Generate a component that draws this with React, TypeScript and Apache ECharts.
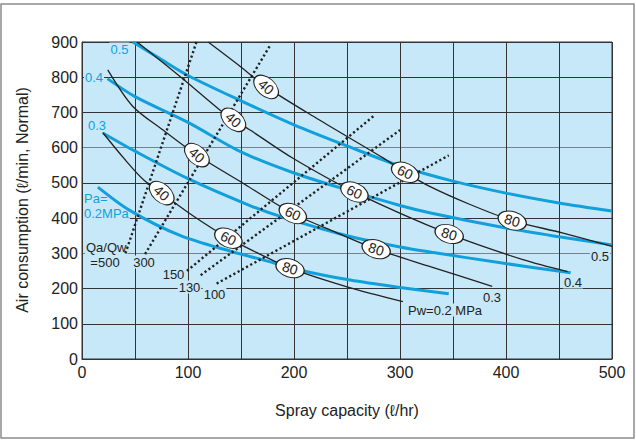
import React, { useEffect, useRef } from "react";
import * as echarts from "echarts";

// ---- Data ----
// Pa (air pressure) curves, blue: [spray capacity l/hr, air consumption l/min]
const paNames = ["0.2", "0.3", "0.4", "0.5"];
const pa02 = [[15, 488], [45, 422], [93, 350], [140, 306], [170, 282], [206, 252], [253, 224], [300, 203], [346, 185]];
const pa03 = [[20, 641], [50, 590], [100, 512], [159, 435], [190, 402], [250, 350], [300, 318], [330, 303], [395, 273], [461, 245]];
const pa04 = [[24, 796], [50, 745], [100, 672], [150, 588], [200, 528], [250, 480], [300, 436], [330, 414], [400, 372], [450, 347], [500, 324]];
const pa05 = [[48, 900], [75, 850], [100, 805], [150, 733], [200, 665], [250, 605], [300, 548], [350, 505], [400, 471], [450, 443], [500, 420]];

// Pw (water pressure) curves, black
const pwNames = ["0.2", "0.3", "0.4", "0.5"];
const pw02 = [[19.5, 643], [40, 568], [58, 509], [75.2, 471], [105, 406], [138.1, 343], [165, 302], [196.3, 258], [250, 205], [302.7, 163]];
const pw03 = [[24.3, 821], [48, 717], [76.5, 650], [108.4, 579], [153, 497], [198.9, 413], [240, 359], [277.5, 312], [330, 261], [387, 206]];
const pw04 = [[52, 900], [92.5, 802], [130, 707], [142.8, 679], [158.6, 650], [199, 570], [257, 474], [346.4, 355], [416, 282], [458, 248]];
const pw05 = [[119, 900], [147, 836], [173.7, 772.5], [222, 682], [284, 571], [304.9, 530], [328, 490], [365, 440], [405.9, 393], [453, 358], [500, 320]];

// Qa/Qw ratio lines (dotted): end points
const ratioNames = ["500", "300", "150", "130", "100"];
const ratio500 = [[41, 300], [108, 900]];
const ratio300 = [[59.5, 298], [177.4, 890]];
const ratio150 = [[99, 250], [276, 692]];
const ratio130 = [[112, 238], [300, 650]];
const ratio100 = [[127, 214], [346, 578]];

// droplet size marks (ellipses) on each Pw curve
const dropletSizes = ["40", "60", "80"];
const pw05Marks = [[173.7, 772.5], [304.9, 530], [405.9, 393]];
const pw04Marks = [[142.8, 679], [257, 474], [346.4, 355]];
const pw03Marks = [[108.4, 579], [198.9, 413], [277.5, 312]];
const pw02Marks = [[75.2, 471], [138.1, 343], [196.3, 258]];

const xTickStep = 50;
const yTickStep = 100;

const FONT = '"Liberation Sans", Arial, Helvetica, sans-serif';
const BLUE = "#12a0dc";
const BLACK = "#222";
const PLOT_BG = "#c7e8f8";

export default function App() {
  const ref = useRef<HTMLDivElement>(null);

  useEffect(() => {
    if (!ref.current) return;
    const chart = echarts.init(ref.current, undefined, { renderer: "svg" });

    const blueSeries = [pa02, pa03, pa04, pa05].map((d, i) => ({
      name: "Pa " + paNames[i],
      type: "line",
      data: d,
      smooth: 0.3,
      symbol: "none",
      lineStyle: { color: BLUE, width: 3 },
      z: 2,
    }));
    const dotSeries = [ratio500, ratio300, ratio150, ratio130, ratio100].map((d, i) => ({
      name: "Qa/Qw " + ratioNames[i],
      type: "line",
      data: d,
      symbol: "none",
      lineStyle: { color: BLACK, width: 2.4, type: [2.2, 2.6] },
      z: 3,
    }));
    const blackSeries = [pw02, pw03, pw04, pw05].map((d, i) => ({
      name: "Pw " + pwNames[i],
      type: "line",
      data: d,
      smooth: 0.3,
      symbol: "none",
      lineStyle: { color: BLACK, width: 1.3 },
      z: 4,
    }));
    const rot = [-42, -25, -17];
    const markItems = [pw05Marks, pw04Marks, pw03Marks, pw02Marks].flatMap((arr) =>
      arr.map((p, i) => ({
        value: p,
        name: dropletSizes[i],
        symbolRotate: rot[i],
        label: { rotate: rot[i] },
      }))
    );
    const ellipseSeries = {
      type: "scatter",
      data: markItems,
      symbol: "path://M0,10A15,10,0,1,1,30,10A15,10,0,1,1,0,10Z",
      symbolSize: [29, 18],
      itemStyle: { color: "#fff", borderColor: BLACK, borderWidth: 1.1, opacity: 1 },
      label: {
        show: true,
        position: "inside",
        formatter: (p: any) => p.name,
        color: BLACK,
        fontSize: 14,
        fontFamily: FONT,
      },
      z: 5,
    };

    const txt = (text: string, x: number, y: number, color: string, size: number, align = "center") => ({
      type: "text",
      x,
      y,
      z: 1,
      style: {
        text,
        fill: color,
        font: `${size}px ${FONT}`,
        lineHeight: 13,
        align,
        textAlign: align,
        verticalAlign: "middle",
        textVerticalAlign: "middle",
        backgroundColor: PLOT_BG,
        padding: [0, 1],
      },
    });

    const option: any = {
      animation: false,
      backgroundColor: "#fff",
      grid: {
        left: 82,
        top: 42,
        width: 530,
        height: 317,
        show: true,
        backgroundColor: PLOT_BG,
        borderColor: "#333",
        borderWidth: 1,
      },
      xAxis: {
        type: "value",
        min: 0,
        max: 500,
        interval: xTickStep,
        axisLine: { show: true, lineStyle: { color: "#333" } },
        axisTick: { show: false },
        axisLabel: {
          formatter: (v: number) => (v % 100 === 0 ? String(v) : ""),
          color: BLACK,
          fontSize: 16,
          fontFamily: FONT,
          margin: 5,
        },
        splitLine: { show: true, lineStyle: { color: "#333", width: 1 } },
      },
      yAxis: {
        type: "value",
        min: 0,
        max: 900,
        interval: yTickStep,
        axisLine: { show: true, lineStyle: { color: "#333" } },
        axisTick: { show: false },
        axisLabel: { color: BLACK, fontSize: 16, fontFamily: FONT, margin: 4 },
        splitLine: {
          show: true,
          lineStyle: {
            color: ["#333", "#333", "#333", "#76828c", "#333", "#333", "#76828c", "#333", "#333", "#333"],
            width: 1.2,
          },
        },
      },
      series: [...blueSeries, ...dotSeries, ...blackSeries, ellipseSeries],
      graphic: [
        {
          type: "rect",
          z: 0,
          shape: { x: 1, y: 4, width: 633, height: 434 },
          style: { fill: "none", stroke: "#8c8c8c", lineWidth: 1.5 },
        },
        {
          type: "text",
          x: 22,
          y: 200,
          rotation: Math.PI / 2,
          style: {
            text: "Air consumption (ℓ/min, Normal)",
            fill: BLACK,
            font: `16px ${FONT}`,
            align: "center",
            textAlign: "center",
            verticalAlign: "middle",
            textVerticalAlign: "middle",
          },
        },
        {
          type: "text",
          x: 347,
          y: 410,
          style: {
            text: "Spray capacity (ℓ/hr)",
            fill: BLACK,
            font: `16px ${FONT}`,
            align: "center",
            textAlign: "center",
            verticalAlign: "middle",
            textVerticalAlign: "middle",
          },
        },
        // Pa labels (blue)
        txt("0.5", 119.5, 49, BLUE, 13),
        txt("0.4", 94, 77, BLUE, 13),
        txt("0.3", 97, 125, BLUE, 13),
        txt("Pa=", 83, 198.5, BLUE, 13, "left"),
        txt("0.2MPa", 83, 213, BLUE, 13, "left"),
        // Qa/Qw labels
        txt("Qa/Qw", 85, 247.5, BLACK, 13, "left"),
        txt("=500", 105, 262, BLACK, 13),
        txt("300", 144, 262, BLACK, 13),
        txt("150", 173.5, 274.5, BLACK, 13),
        txt("130", 189.5, 287, BLACK, 13),
        txt("100", 214.5, 294.5, BLACK, 13),
        // Pw labels
        txt("0.5", 600, 256, BLACK, 13),
        txt("0.4", 573, 282, BLACK, 13),
        txt("0.3", 492, 297, BLACK, 13),
        txt("Pw=0.2 MPa", 407, 310, BLACK, 13, "left"),
      ],
    };

    chart.setOption(option);
    return () => chart.dispose();
  }, []);

  return (
    <div
      ref={ref}
      style={{ position: "absolute", left: 0, top: 0, width: 636, height: 440, background: "#fff" }}
    />
  );
}
